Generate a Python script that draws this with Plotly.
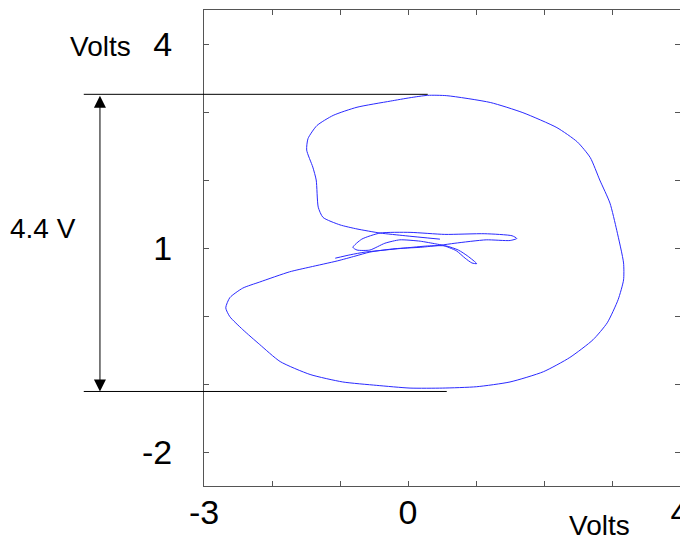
import plotly.graph_objects as go

# ---- data (volts) ----
curve_x = [-1.07, -0.85, -0.63, -0.34, -0.04, 0.29, 0.56, 0.74, 0.88, 1.01,
           0.94, 0.84, 0.71, 0.51, 0.41, 0.18, -0.12, -0.34, -0.56, -0.75,
           -0.81, -0.68, -0.41, 0.03, 0.54, 1.13, 1.53, 1.60, 1.50, 1.15,
           0.69, 0.47, 0.18, -0.19, -0.56, -0.78, -1.04, -1.44, -1.74, -2.18,
           -2.43, -2.62, -2.68, -2.62, -2.43, -2.18, -1.88, -1.44, -0.96, -0.46,
           0.03, 0.51, 1.01, 1.50, 1.99, 2.38, 2.72, 2.93, 3.09, 3.17,
           3.17, 3.07, 2.97, 2.82, 2.68, 2.49, 2.19, 1.69, 1.21, 0.57,
           0.29, 0.03, -0.26, -0.75, -1.10, -1.34, -1.47, -1.49, -1.40, -1.35,
           -1.32, -1.25, -1.00, -0.75, -0.41, -0.04, 0.47]
curve_y = [0.85, 0.90, 0.94, 0.97, 1.00, 1.03, 1.03, 0.97, 0.88, 0.77,
           0.78, 0.85, 0.96, 1.04, 1.06, 1.10, 1.12, 1.07, 0.97, 0.97,
           1.01, 1.13, 1.22, 1.23, 1.20, 1.21, 1.18, 1.14, 1.11, 1.12,
           1.07, 1.04, 1.01, 0.99, 0.94, 0.88, 0.81, 0.72, 0.65, 0.50,
           0.41, 0.27, 0.12, -0.01, -0.20, -0.42, -0.67, -0.86, -0.97, -1.02,
           -1.06, -1.06, -1.04, -0.97, -0.82, -0.61, -0.35, -0.10, 0.24, 0.53,
           0.78, 1.26, 1.66, 2.00, 2.33, 2.56, 2.77, 2.99, 3.14, 3.24,
           3.245, 3.21, 3.16, 3.07, 2.95, 2.80, 2.61, 2.44, 2.19, 2.00,
           1.60, 1.45, 1.34, 1.28, 1.22, 1.18, 1.13]

x_ticks = [-3, -2, -1, 0, 1, 2, 3, 4]
x_ticktext = ["-3", "", "", "0", "", "", "", "4"]
y_ticks = [-2, -1, 0, 1, 2, 3, 4]
y_ticktext = ["-2", "", "", "1", "", "", "4"]
x_range = [-3, 4]
y_range = [-2.5, 4.5]

# peak-to-peak guide levels
level_top = 3.26
level_bot = -1.11
guide_start = -4.79
guide_top_end = 0.29
guide_bot_end = 0.57
arrow_x = -4.53
span_label = "4.4 V"

FONT = "Liberation Sans, Arial, sans-serif"

fig = go.Figure()
fig.add_trace(go.Scatter(
    x=curve_x, y=curve_y, mode="lines",
    line=dict(color="#2a2aff", width=1, shape="spline", smoothing=0.6),
    hoverinfo="skip", showlegend=False,
))
# carrier for the right-hand tick marks
fig.add_trace(go.Scatter(x=[None], y=[None], yaxis="y2", mode="lines",
                         hoverinfo="skip", showlegend=False))

def to_paper_x(v):
    return (v - x_range[0]) / (x_range[1] - x_range[0])

label_font = dict(family=FONT, size=28, color="black")
annotations = [
    # horizontal guide lines
    dict(x=guide_top_end, y=level_top, xref="x", yref="y",
         ax=guide_start, ay=level_top, axref="x", ayref="y",
         text="", showarrow=True, arrowhead=0, arrowwidth=1, arrowcolor="black"),
    dict(x=guide_bot_end, y=level_bot, xref="x", yref="y",
         ax=guide_start, ay=level_bot, axref="x", ayref="y",
         text="", showarrow=True, arrowhead=0, arrowwidth=1, arrowcolor="black"),
    # double-headed arrow
    dict(x=to_paper_x(arrow_x), y=level_bot, xref="paper", yref="y",
         ax=0, ay=level_top, axref="pixel", ayref="y",
         text="", showarrow=True, arrowhead=2, arrowsize=2.4, arrowwidth=1,
         arrowside="end+start", startarrowhead=2, startarrowsize=2.4,
         arrowcolor="black", standoff=0, startstandoff=0),
    dict(x=-0.3372, y=0.542, xref="paper", yref="paper", text=span_label,
         xanchor="center", yanchor="middle", showarrow=False, font=label_font),
    dict(x=-0.2164, y=0.9223, xref="paper", yref="paper", text="Volts",
         xanchor="center", yanchor="middle", showarrow=False, font=label_font),
    dict(x=0.8309, y=-0.084, xref="paper", yref="paper", text="Volts",
         xanchor="center", yanchor="middle", showarrow=False, font=label_font),
]

tick_font = dict(family=FONT, size=34, color="black")
fig.update_layout(
    width=680, height=540,
    margin=dict(l=204, r=0, t=10, b=54, autoexpand=False),
    paper_bgcolor="white", plot_bgcolor="white",
    xaxis=dict(range=x_range, tickmode="array", tickvals=x_ticks,
               ticktext=x_ticktext, ticks="inside", ticklen=5,
               tickcolor="#555555", showline=True, linecolor="#555555",
               linewidth=1, mirror="ticks", showgrid=False, zeroline=False,
               tickfont=tick_font, ticklabelstandoff=-4,
               ticklabeloverflow="allow", automargin=False),
    yaxis=dict(range=y_range, tickmode="array", tickvals=y_ticks,
               ticktext=y_ticktext, ticks="inside", ticklen=5,
               tickcolor="#555555", showline=True, linecolor="#555555",
               linewidth=1, mirror=False, showgrid=False, zeroline=False,
               tickfont=tick_font, ticklabelstandoff=24,
               ticklabeloverflow="allow", automargin=False),
    yaxis2=dict(range=y_range, overlaying="y", side="right", anchor="x",
                tickmode="array", tickvals=y_ticks, showticklabels=False,
                ticks="inside", ticklen=5, tickcolor="#555555",
                showline=False, showgrid=False, zeroline=False,
                automargin=False),
    annotations=annotations,
    showlegend=False,
)

fig.write_html("out.html")
